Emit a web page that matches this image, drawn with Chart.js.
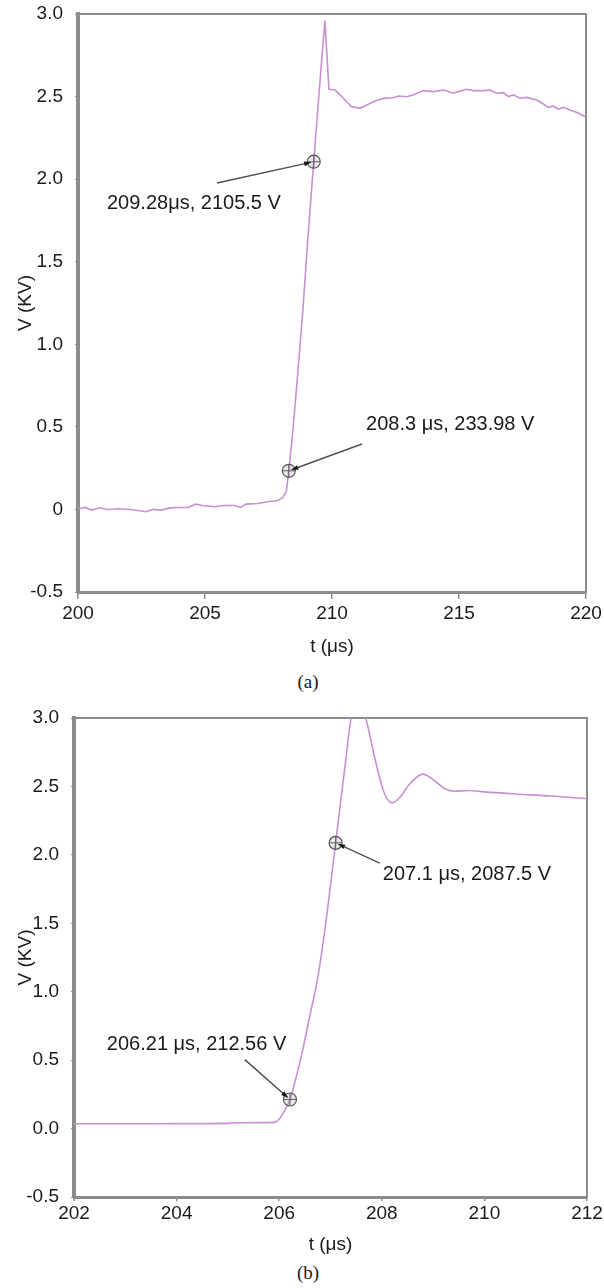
<!DOCTYPE html>
<html lang="en">
<head>
  <meta charset="UTF-8">
  <title>Voltage rise</title>
  <style>
    body {
      margin: 0;
      background-color: white;
      width: 604px;
      height: 1288px;
      position: relative;
      overflow: hidden;
    }
    canvas {
      position: absolute;
      left: 0;
    }
    #chartA { top: 0; }
    #chartB { top: 700px; }
    .caption {
      position: absolute;
      left: 268px;
      width: 80px;
      text-align: center;
      font-family: "Liberation Serif", "Times New Roman", serif;
      font-size: 19px;
      line-height: 22px;
      color: #1a1a1a;
    }
    #capA { top: 671px; }
    #capB { top: 1262px; }
  </style>
</head>
<body>
  <canvas id="chartA" width="604" height="670"></canvas>
  <div class="caption" id="capA">(a)</div>
  <canvas id="chartB" width="604" height="560"></canvas>
  <div class="caption" id="capB">(b)</div>

  <script src="https://cdn.jsdelivr.net/npm/chart.js"></script>
  <script>
    // (a) measured waveform, t in µs, V in kV
    const tA = [200.0, 200.3, 200.53, 200.87, 201.14, 201.6, 202.05, 202.43, 202.66, 202.97,
                203.27, 203.57, 203.88, 204.33, 204.64, 204.94, 205.4, 205.7, 206.16, 206.39,
                206.62, 207.07, 207.53, 207.83, 208.06, 208.2, 208.3, 208.45, 208.65, 208.85,
                209.05, 209.28, 209.5, 209.72, 209.88, 210.12, 210.32, 210.58, 210.77, 211.1,
                211.37, 211.69, 212.02, 212.42, 212.61, 212.94, 213.2, 213.6, 213.99, 214.38,
                214.78, 214.97, 215.3, 215.56, 215.96, 216.22, 216.48, 216.75, 216.94, 217.14,
                217.4, 217.66, 218.06, 218.32, 218.52, 218.71, 218.91, 219.11, 219.37, 219.7,
                219.96];
    const vA = [0.004, 0.012, -0.004, 0.01, 0.0, 0.004, 0.0, -0.008, -0.014, 0.0,
                -0.004, 0.008, 0.012, 0.012, 0.032, 0.022, 0.016, 0.024, 0.024, 0.012,
                0.032, 0.036, 0.048, 0.052, 0.07, 0.11, 0.234, 0.46, 0.82, 1.2,
                1.64, 2.1055, 2.54, 2.96, 2.544, 2.54, 2.51, 2.469, 2.439, 2.429,
                2.449, 2.473, 2.489, 2.493, 2.503, 2.499, 2.509, 2.536, 2.53, 2.54,
                2.52, 2.53, 2.544, 2.536, 2.536, 2.54, 2.52, 2.524, 2.5, 2.51,
                2.49, 2.495, 2.479, 2.455, 2.435, 2.443, 2.423, 2.435, 2.419, 2.4,
                2.378];

    // (b) measured waveform
    const tB = [202.0, 203.0, 204.0, 205.0, 205.1, 205.9, 206.0, 206.1, 206.21, 206.3,
                206.45, 206.6, 206.75, 206.9, 207.1, 207.3, 207.4, 207.5, 207.6, 207.7,
                207.9, 208.05, 208.2, 208.35, 208.55, 208.8, 209.0, 209.2, 209.4, 209.7,
                210.0, 210.6, 211.3, 212.0];
    const vB = [0.035, 0.035, 0.036, 0.038, 0.042, 0.045, 0.07, 0.13, 0.2126, 0.33,
                0.56, 0.83, 1.1, 1.48, 2.0875, 2.7, 3.0, 3.12, 3.1, 2.98,
                2.65, 2.45, 2.38, 2.42, 2.52, 2.59, 2.55, 2.49, 2.465, 2.47,
                2.46, 2.445, 2.43, 2.41];

    // cursor readouts
    const markA_t = [208.3, 209.28];
    const markA_v = [0.23398, 2.1055];
    const markA_text = ['208.3 μs, 233.98 V', '209.28μs, 2105.5 V'];
    const markB_t = [206.21, 207.1];
    const markB_v = [0.21256, 2.0875];
    const markB_text = ['206.21 μs, 212.56 V', '207.1 μs, 2087.5 V'];

    // tick labels
    const xTicksA = ['200', '205', '210', '215', '220'];
    const yTicksA = ['-0.5', '0', '0.5', '1.0', '1.5', '2.0', '2.5', '3.0'];
    const xTicksB = ['202', '204', '206', '208', '210', '212'];
    const yTicksB = ['-0.5', '0.0', '0.5', '1.0', '1.5', '2.0', '2.5', '3.0'];

    const FONT = '"Liberation Sans", Arial, sans-serif';
    const INK = '#1a1a1a';
    const AXIS = '#8c8c8c';
    const TRACE = '#c790d2';

    // leader line + arrow + readout text for each cursor
    const calloutPlugin = {
      id: 'callouts',
      afterDatasetsDraw(chart, args, opts) {
        const ctx = chart.ctx;
        const x = chart.scales.x, y = chart.scales.y;
        ctx.save();
        opts.items.forEach((c, i) => {
          const px = x.getPixelForValue(opts.t[i]);
          const py = y.getPixelForValue(opts.v[i]);
          const sx = x.getPixelForValue(c.lx);
          const sy = y.getPixelForValue(c.ly);
          const ang = Math.atan2(py - sy, px - sx);
          const ex = px - Math.cos(ang) * 3;
          const ey = py - Math.sin(ang) * 3;
          ctx.strokeStyle = '#505050';
          ctx.lineWidth = 1.5;
          ctx.beginPath();
          ctx.moveTo(sx, sy);
          ctx.lineTo(ex, ey);
          ctx.stroke();
          ctx.fillStyle = '#111';
          ctx.beginPath();
          ctx.moveTo(ex, ey);
          ctx.lineTo(ex - 7 * Math.cos(ang - 0.35), ey - 7 * Math.sin(ang - 0.35));
          ctx.lineTo(ex - 7 * Math.cos(ang + 0.35), ey - 7 * Math.sin(ang + 0.35));
          ctx.closePath();
          ctx.fill();
          ctx.font = '20px ' + FONT;
          ctx.textAlign = 'left';
          ctx.textBaseline = 'middle';
          ctx.fillStyle = INK;
          ctx.fillText(opts.text[i], x.getPixelForValue(c.tx), y.getPixelForValue(c.ty));
        });
        ctx.restore();
      }
    };

    function makeChart(id, s) {
      const trace = s.t.map((t, i) => ({ x: t, y: s.v[i] }));
      const marks = s.mt.map((t, i) => ({ x: t, y: s.mv[i] }));
      return new Chart(document.getElementById(id), {
        type: 'line',
        data: {
          datasets: [
            {
              data: marks, showLine: false, order: 0,
              pointStyle: 'circle', pointRadius: 6.5, pointBorderWidth: 1.2,
              pointBorderColor: '#555', pointBackgroundColor: 'rgba(140,140,140,0.2)'
            },
            {
              data: marks, showLine: false, order: 0,
              pointStyle: 'cross', pointRadius: 6.5, pointBorderWidth: 1,
              pointBorderColor: '#555'
            },
            {
              data: trace, order: 1,
              borderColor: TRACE, borderWidth: 1.6,
              pointRadius: 0, tension: s.smooth ? 0.4 : 0,
              cubicInterpolationMode: s.smooth ? 'monotone' : 'default'
            }
          ]
        },
        options: {
          responsive: false,
          animation: false,
          layout: { padding: { top: s.padTop, right: s.padRight, left: 0, bottom: 0 } },
          plugins: {
            legend: { display: false },
            tooltip: { enabled: false },
            callouts: { items: s.callouts, t: s.mt, v: s.mv, text: s.mtext }
          },
          scales: {
            x: {
              type: 'linear', position: 'bottom',
              min: s.xMin, max: s.xMax,
              border: { display: true, color: AXIS, width: 3 },
              grid: { drawOnChartArea: false, drawTicks: true, tickLength: s.xTick, color: AXIS, lineWidth: 1.5 },
              ticks: {
                stepSize: s.xStep, padding: s.xPad, color: INK, font: { family: FONT, size: 19 },
                maxRotation: 0, autoSkip: false,
                callback: (val, i) => s.xLabels[i]
              },
              title: {
                display: true, text: 't (μs)', color: INK,
                font: { family: FONT, size: 19 }, padding: { top: 0, bottom: s.xTitlePad }
              },
              afterFit: sc => { sc.height = s.xHeight; sc.paddingLeft = 0; sc.paddingRight = 0; }
            },
            y: {
              type: 'linear', position: 'left',
              min: -0.5, max: 3.0,
              border: { display: true, color: AXIS, width: 4 },
              grid: { drawOnChartArea: false, drawTicks: true, tickLength: 3, color: AXIS, lineWidth: 1 },
              ticks: {
                stepSize: 0.5, padding: 12, color: INK, font: { family: FONT, size: 19 },
                callback: (val, i) => s.yLabels[i]
              },
              title: {
                display: true, text: 'V (KV)', color: INK,
                font: { family: FONT, size: 19 }, padding: { top: 14, bottom: 0 }
              },
              afterFit: sc => { sc.width = s.yWidth; sc.paddingTop = 0; sc.paddingBottom = 0; }
            },
            // plain frame lines on the top and right
            x2: {
              type: 'linear', position: 'top',
              border: { display: true, color: AXIS, width: 2 },
              grid: { drawOnChartArea: false, drawTicks: false },
              ticks: { display: false },
              afterFit: sc => { sc.height = 0; sc.paddingLeft = 0; sc.paddingRight = 0; }
            },
            y2: {
              type: 'linear', position: 'right',
              border: { display: true, color: AXIS, width: 2 },
              grid: { drawOnChartArea: false, drawTicks: false },
              ticks: { display: false },
              afterFit: sc => { sc.width = 0; sc.paddingTop = 0; sc.paddingBottom = 0; }
            }
          }
        },
        plugins: [calloutPlugin]
      });
    }

    makeChart('chartA', {
      t: tA, v: vA, smooth: false,
      mt: markA_t, mv: markA_v, mtext: markA_text,
      callouts: [
        { tx: 211.34, ty: 0.517, lx: 211.18, ly: 0.396 },
        { tx: 201.14, ty: 1.855, lx: 205.47, ly: 1.976 }
      ],
      xMin: 200, xMax: 220, xStep: 5, xLabels: xTicksA, yLabels: yTicksA,
      padTop: 14, padRight: 18, yWidth: 78, xHeight: 78,
      xTick: 7, xPad: 3, xTitlePad: 12
    });

    makeChart('chartB', {
      t: tB, v: vB, smooth: true,
      mt: markB_t, mv: markB_v, mtext: markB_text,
      callouts: [
        { tx: 202.64, ty: 0.613, lx: 205.33, ly: 0.504 },
        { tx: 208.02, ty: 1.854, lx: 207.96, ly: 1.94 }
      ],
      xMin: 202, xMax: 212, xStep: 2, xLabels: xTicksB, yLabels: yTicksB,
      padTop: 18, padRight: 17, yWidth: 74, xHeight: 63,
      xTick: 4, xPad: 1, xTitlePad: 4
    });
  </script>
</body>
</html>
